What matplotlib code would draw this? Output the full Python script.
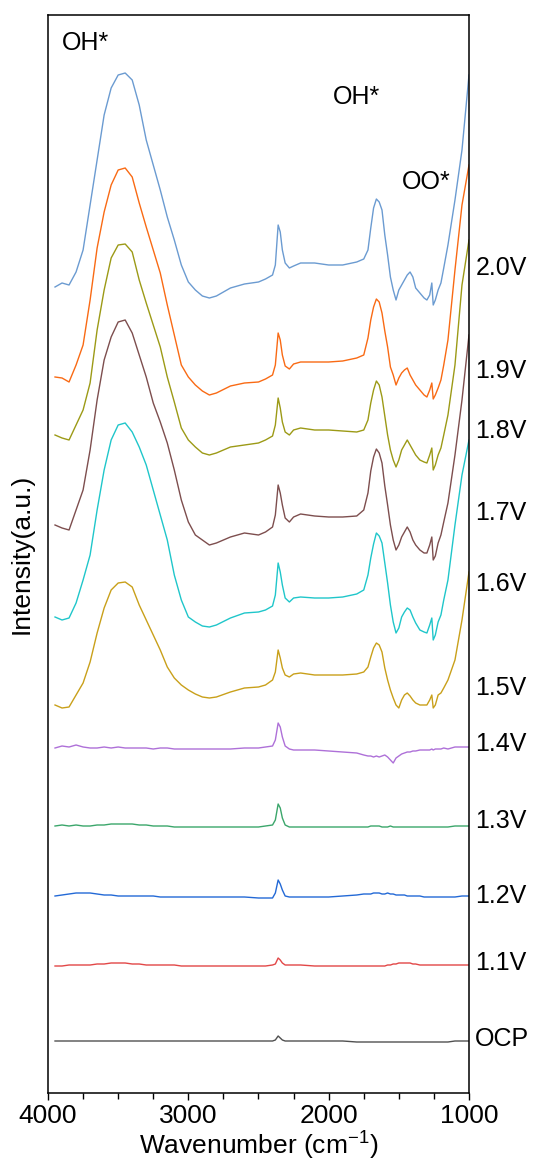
import matplotlib
matplotlib.use("Agg")
import matplotlib.pyplot as plt
import matplotlib.transforms as mtransforms
from matplotlib.ticker import MultipleLocator

plt.rcParams['font.family'] = ['Liberation Sans', 'DejaVu Sans']
plt.rcParams['mathtext.fontset'] = 'custom'
plt.rcParams['mathtext.rm'] = 'Liberation Sans'
plt.rcParams['mathtext.it'] = 'Liberation Sans'

wavenumber = [3950, 3900, 3850, 3800, 3750, 3700, 3650, 3600, 3550, 3500,
              3450, 3400, 3350, 3300, 3250, 3200, 3150, 3100, 3050, 3000,
              2950, 2900, 2850, 2800, 2700, 2600, 2500, 2450, 2400, 2380,
              2360, 2345, 2330, 2310, 2280, 2250, 2200, 2100, 2000, 1900,
              1800, 1750, 1720, 1700, 1680, 1660, 1640, 1620, 1600, 1580,
              1560, 1540, 1520, 1500, 1480, 1460, 1440, 1420, 1400, 1380,
              1350, 1320, 1300, 1280, 1265, 1255, 1240, 1220, 1200, 1180,
              1150, 1100, 1050, 1000]

s_20 = [806, 810, 808, 821, 843, 888, 933, 978, 1005, 1018,
        1020, 1013, 988, 953, 928, 903, 876, 853, 828, 811,
        803, 797, 795, 797, 805, 809, 811, 814, 818, 828,
        868, 861, 843, 830, 825, 827, 830, 830, 828, 828,
        831, 834, 843, 865, 885, 894, 891, 883, 858, 838,
        816, 803, 793, 803, 808, 813, 818, 821, 816, 805,
        800, 795, 793, 798, 810, 788, 793, 803, 810, 825,
        848, 893, 943, 1018]
s_19 = [716, 715, 711, 728, 748, 793, 845, 881, 908, 923,
        925, 916, 890, 866, 843, 820, 788, 758, 728, 716,
        708, 702, 698, 700, 707, 710, 711, 714, 718, 728,
        760, 753, 738, 727, 724, 729, 731, 731, 731, 732,
        735, 738, 755, 773, 786, 794, 791, 780, 762, 746,
        726, 718, 708, 715, 720, 723, 725, 718, 713, 708,
        703, 698, 696, 703, 710, 694, 698, 705, 713, 728,
        753, 823, 888, 928]
s_18 = [658, 655, 653, 668, 683, 710, 763, 803, 835, 848,
        849, 841, 813, 790, 768, 746, 716, 691, 665, 653,
        646, 640, 638, 640, 646, 648, 650, 653, 657, 668,
        695, 685, 671, 661, 658, 663, 665, 663, 663, 662,
        661, 663, 673, 690, 703, 712, 708, 696, 677, 658,
        643, 633, 626, 633, 643, 648, 653, 648, 643, 638,
        633, 631, 630, 638, 645, 623, 628, 638, 645, 658,
        678, 728, 808, 853]
s_17 = [568, 565, 563, 583, 603, 643, 693, 733, 756, 771,
        773, 760, 738, 716, 690, 671, 650, 623, 593, 571,
        558, 553, 548, 550, 556, 560, 558, 561, 566, 578,
        608, 600, 588, 575, 571, 576, 579, 577, 576, 576,
        577, 583, 600, 622, 636, 644, 640, 630, 607, 588,
        568, 553, 543, 548, 556, 561, 566, 561, 553, 548,
        543, 540, 540, 548, 556, 533, 537, 550, 558, 571,
        590, 638, 693, 758]
s_16 = [476, 473, 475, 490, 513, 538, 583, 623, 653, 668,
        670, 661, 646, 628, 603, 578, 553, 518, 493, 476,
        471, 467, 466, 468, 475, 480, 481, 483, 487, 498,
        530, 521, 508, 495, 491, 495, 496, 495, 495, 496,
        499, 503, 518, 535, 549, 560, 557, 550, 530, 510,
        488, 471, 460, 465, 476, 481, 485, 483, 476, 470,
        463, 461, 460, 468, 475, 453, 458, 471, 478, 493,
        513, 568, 618, 653]
s_15 = [388, 385, 386, 398, 410, 431, 460, 485, 503, 510,
        511, 506, 488, 473, 458, 443, 426, 415, 408, 403,
        399, 396, 395, 396, 401, 405, 406, 408, 413, 421,
        443, 435, 425, 418, 416, 419, 420, 418, 418, 418,
        419, 421, 426, 436, 445, 450, 448, 441, 425, 413,
        403, 395, 388, 385, 393, 398, 400, 397, 393, 390,
        388, 388, 388, 393, 398, 385, 388, 398, 400, 405,
        413, 433, 473, 521]
s_14 = [345, 347, 346, 348, 346, 345, 345, 346, 345, 346,
        345, 345, 345, 345, 344, 345, 345, 344, 344, 344,
        344, 344, 344, 344, 344, 345, 345, 346, 347, 353,
        370, 366, 356, 347, 344, 343, 343, 343, 342, 341,
        340, 338, 337, 337, 336, 337, 336, 337, 338, 336,
        333, 330, 335, 337, 339, 340, 341, 341, 342, 342,
        343, 343, 343, 343, 344, 343, 344, 344, 344, 345,
        344, 346, 346, 346]
s_13 = [267, 268, 267, 268, 267, 267, 268, 268, 269, 269,
        269, 269, 268, 268, 267, 267, 267, 266, 266, 266,
        266, 266, 266, 266, 266, 266, 266, 267, 268, 273,
        289, 285, 275, 268, 266, 266, 266, 266, 266, 266,
        266, 266, 266, 267, 267, 267, 267, 266, 266, 266,
        267, 266, 266, 266, 266, 266, 266, 266, 266, 266,
        266, 266, 266, 266, 266, 266, 266, 266, 266, 266,
        266, 267, 267, 267]
s_12 = [197, 198, 199, 200, 200, 200, 199, 198, 198, 197,
        197, 197, 197, 197, 197, 196, 196, 196, 196, 196,
        196, 196, 196, 196, 196, 196, 195, 195, 195, 200,
        213, 209, 203, 197, 196, 196, 196, 196, 196, 197,
        198, 199, 199, 199, 200, 200, 200, 199, 199, 200,
        199, 199, 198, 198, 198, 198, 197, 197, 197, 197,
        197, 196, 196, 196, 196, 196, 196, 196, 196, 196,
        196, 196, 197, 197]
s_11 = [127, 127, 128, 128, 128, 128, 129, 129, 130, 130,
        130, 129, 129, 128, 128, 128, 128, 128, 127, 127,
        127, 127, 127, 127, 127, 127, 127, 127, 128, 129,
        135, 133, 130, 128, 128, 128, 128, 127, 127, 127,
        127, 127, 127, 127, 127, 127, 127, 127, 127, 128,
        128, 129, 129, 130, 130, 130, 130, 130, 129, 129,
        128, 128, 128, 128, 128, 128, 128, 128, 128, 128,
        128, 128, 128, 128]
s_ocp = [52, 52, 52, 52, 52, 52, 52, 52, 52, 52,
         52, 52, 52, 52, 52, 52, 52, 52, 52, 52,
         52, 52, 52, 52, 52, 52, 52, 52, 52, 53,
         57, 55, 53, 52, 52, 52, 52, 52, 52, 52,
         51, 51, 51, 51, 51, 51, 51, 51, 51, 51,
         51, 51, 51, 51, 51, 51, 51, 51, 51, 51,
         51, 51, 51, 51, 51, 51, 51, 51, 51, 51,
         51, 52, 52, 52]

series_labels = ['2.0V', '1.9V', '1.8V', '1.7V', '1.6V', '1.5V',
                 '1.4V', '1.3V', '1.2V', '1.1V', 'OCP']
series_values = [s_20, s_19, s_18, s_17, s_16, s_15, s_14, s_13, s_12, s_11, s_ocp]
label_heights = [825, 722, 662, 580, 509, 405, 349, 272, 197, 130, 54]
colors = ['#6B9BD1', '#F96A14', '#9C9A16', '#7D4E4E', '#1FC6CA', '#C9A01A',
          '#AE70D8', '#3BA66B', '#2369D6', '#E24747', '#505050']

annotations = [('OH*', 3900, 1050), ('OH*', 1970, 996), ('OO*', 1480, 911)]

fig = plt.figure(figsize=(5.42, 11.65), dpi=100)
ax = fig.add_axes([48/542, 1 - 1093/1165, (469-48)/542, (1093-15)/1165])

for vals, col in zip(series_values, colors):
    ax.plot(wavenumber, vals, color=col, lw=1.0)

ax.set_xlim(4000, 1000)
ax.set_ylim(0, 1078)
ax.xaxis.set_major_locator(MultipleLocator(1000))
ax.xaxis.set_minor_locator(MultipleLocator(250))
ax.tick_params(axis='x', which='major', direction='out', length=5, width=1.0,
               labelsize=19, pad=3)
ax.tick_params(axis='x', which='minor', direction='out', length=4, width=1.0)
ax.set_yticks([])
for sp in ax.spines.values():
    sp.set_linewidth(1.1)

ax.set_xlabel('Wavenumber (cm$^{-1}$)', fontsize=19, labelpad=1)
ax.set_ylabel('Intensity(a.u.)', fontsize=19, labelpad=10)

trans = mtransforms.blended_transform_factory(ax.transAxes, ax.transData)
for lab, yv in zip(series_labels, label_heights):
    ax.text(1.015, yv, lab, transform=trans, fontsize=18, va='center',
            ha='left', clip_on=False)

for txt, xv, yv in annotations:
    ax.text(xv, yv, txt, fontsize=18, va='center', ha='left')

fig.savefig('out.png', dpi=100)
